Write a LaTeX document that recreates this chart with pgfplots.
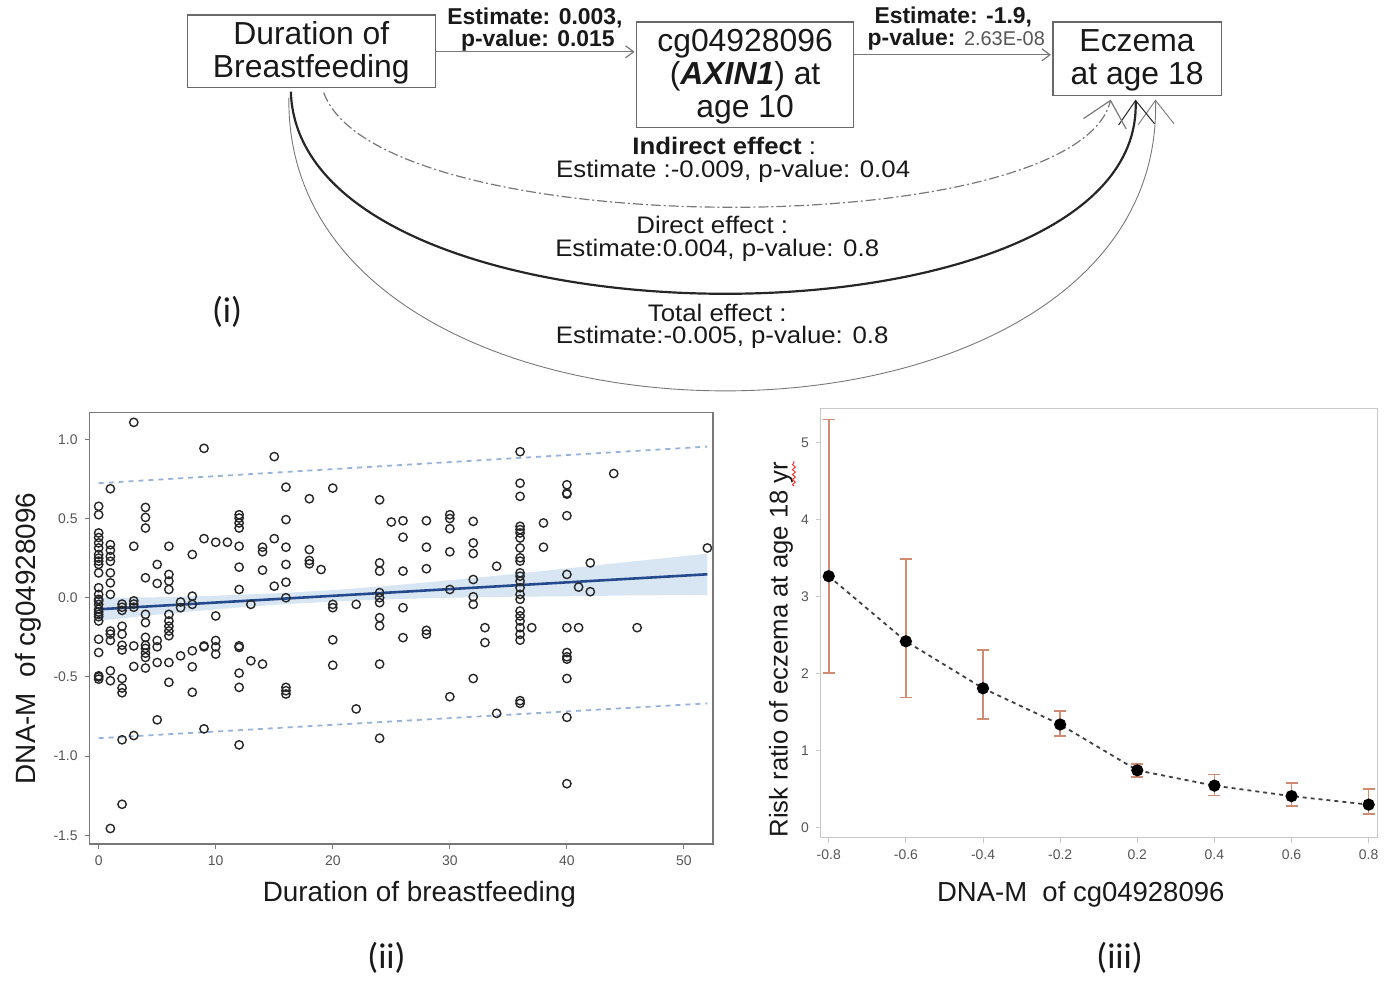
\documentclass[border=0pt]{standalone}
\usepackage{fontspec}
\setmainfont{Liberation Sans}
\newfontfamily\panelfont{Carlito}
\usepackage{pgfplots}
\pgfplotsset{compat=1.18}
\usetikzlibrary{arrows.meta,decorations.pathmorphing}

\definecolor{txt}{RGB}{25,25,25}
\definecolor{boxline}{RGB}{105,105,105}
\definecolor{arcgray}{RGB}{120,120,120}
\definecolor{axisgray}{RGB}{120,120,120}
\definecolor{lightaxis}{RGB}{200,200,200}
\definecolor{ticktext}{RGB}{85,85,85}
\definecolor{fitblue}{RGB}{38,72,140}
\definecolor{bandblue}{RGB}{216,229,243}
\definecolor{predblue}{RGB}{150,178,218}
\definecolor{errsalmon}{RGB}{208,140,112}

\newcommand\boxfont{\fontsize{16}{16.5}\selectfont}
\newcommand\estfont{\fontsize{11.5}{12}\selectfont\bfseries}
\newcommand\efffont{\fontsize{12}{13}\selectfont}
\newcommand\labfont{\fontsize{14}{15}\selectfont}
\newcommand\rlabfont{\fontsize{12.9}{14}\selectfont}
\newcommand\rxlabfont{\fontsize{13.8}{15}\selectfont}
\newcommand\tickfont{\fontsize{7}{8}\selectfont}

\begin{document}
\begin{tikzpicture}
% ---------- mediation diagram (pixel-like grid, y downwards) ----------
\begin{scope}[x=0.5pt,y=-0.5pt,text=txt]
\path[use as bounding box] (0,0) rectangle (1385,985);
\coordinate (scatterSW) at (90,847);
\coordinate (riskSW) at (824,841);

\draw[boxline,line width=0.7pt] (188,15) rectangle (437,88);
\node[align=center,font=\boxfont] at (312.5,53) {Duration of\\Breastfeeding};
\draw[boxline,line width=0.7pt] (639,22) rectangle (857,128);
\node[align=center,font=\boxfont] at (748,77) {cg04928096\\(\textbf{\textit{AXIN1}}) at\\age 10};
\draw[boxline,line width=0.7pt] (1057,22) rectangle (1226,96);
\node[align=center,font=\boxfont] at (1141.5,61) {Eczema\\at age 18};

\draw[arcgray,line width=0.6pt,-{Straight Barb[length=4pt,width=6pt]}] (437,52) -- (637,52);
\draw[arcgray,line width=0.6pt,-{Straight Barb[length=4pt,width=6pt]}] (857,55) -- (1055,55);
\node[font=\estfont] at (537,18) {Estimate: 0.003,};
\node[font=\estfont] at (540,41) {p-value: 0.015};
\node[font=\estfont] at (957,17) {Estimate: -1.9,};
\node[font=\estfont] at (960,40) {p-value: {\mdseries\fontsize{10}{11}\selectfont\color{ticktext}2.63E-08}};

% total effect
\draw[arcgray,line width=0.45pt,-{Straight Barb[length=12pt,width=18pt]}]
  (290,98) .. controls (285,490) and (1170,490) .. (1160,100);
% direct effect
\draw[black!85,line width=1.1pt,-{Straight Barb[length=12pt,width=18pt,line width=0.5pt]}]
  (292,92) .. controls (300,361) and (1150,361) .. (1140,100);
% indirect effect
\draw[arcgray,line width=0.6pt,dash pattern=on 5pt off 1.5pt on 1pt off 1.5pt,-{Straight Barb[length=12pt,width=22pt,sep=0pt]}]
  (325,93) .. controls (380,245) and (1080,245) .. (1115,100);

\begin{scope}[every node/.style={font=\efffont,inner sep=0pt,xscale=1.08}]
\node at (727,147) {\textbf{Indirect effect} :};
\node at (736,172) {Estimate :-0.009, p-value: 0.04};
\node at (715,226) {Direct effect :};
\node at (720,251) {Estimate:0.004, p-value: 0.8};
\node at (720,314) {Total effect :};
\node at (725,339) {Estimate:-0.005, p-value: 0.8};
\end{scope}

\node[font=\panelfont\fontsize{18}{18}\selectfont] at (228,313) {(i)};
\node[font=\panelfont\fontsize{18}{18}\selectfont] at (388,962) {(ii)};
\node[font=\panelfont\fontsize{18}{18}\selectfont] at (1124,962) {(iii)};

\node[font=\labfont,rotate=90] at (28,641) {DNA-M\ \ of cg04928096};
\node[font=\labfont] at (421,898) {Duration of breastfeeding};
\node[font=\rlabfont,rotate=90] at (784,652) {Risk ratio of eczema at age 18 yr};
\node[font=\rxlabfont] at (1085,898) {DNA-M\ \ of cg04928096};
\draw[red!80,line width=0.5pt,decorate,decoration={snake,amplitude=0.7pt,segment length=2.5pt}] (797,488) -- (797,463);
\end{scope}

% ---------- (ii) methylation vs breastfeeding duration ----------
\begin{axis}[
  at={(scatterSW)}, anchor=south west, scale only axis,
  width=313pt, height=216.5pt,
  xmin=-0.77, xmax=52.5, ymin=-1.553, ymax=1.17,
  xtick={0,10,20,30,40,50}, ytick={-1.5,-1,-0.5,0,0.5,1},
  tick pos=left, tick align=outside, major tick length=2.5pt,
  axis line style={draw=axisgray,line width=0.8pt},
  tick style={axisgray,line width=0.5pt},
  ticklabel style={font=\tickfont,text=ticktext},
  /pgf/number format/assume math mode=true,
  yticklabel style={/pgf/number format/fixed,/pgf/number format/fixed zerofill,/pgf/number format/precision=1},
  xticklabel style={/pgf/number format/fixed},
]
% 95% confidence band of the fitted line
\addplot[fill=bandblue,draw=none] coordinates {
 (0,-0.001) (5,0.003) (10,0.013) (15,0.027) (20,0.048) (25,0.077) (30,0.110) (35,0.146) (40,0.185) (45,0.224) (52,0.278)
 (52,0.018) (45,0.014) (40,0.009) (35,0.006) (30,0.000) (25,-0.009) (20,-0.024) (15,-0.045) (10,-0.073) (5,-0.107) (0,-0.145)
} --cycle;
% prediction limits
\addplot[predblue,line width=0.9pt,dash pattern=on 2.5pt off 2.5pt] coordinates {(0,0.723) (52,0.954)};
\addplot[predblue,line width=0.9pt,dash pattern=on 2.5pt off 2.5pt] coordinates {(0,-0.887) (52,-0.667)};
% observations
\addplot[only marks,mark=o,mark size=2.1pt,black!85,mark options={line width=0.7pt}] coordinates {
 (0,0.577) (0,0.524) (0,0.409) (0,0.380) (0,0.346) (0,0.314) (0,0.273) (0,0.250) (0,0.231) (0,0.210) (0,0.157) (0,0.063) (0,0.021)
 (0,-0.010) (0,-0.020) (0,-0.042) (0,-0.073) (0,-0.090) (0,-0.105) (0,-0.120) (0,-0.147) (0,-0.262) (0,-0.346) (0,-0.493) (0,-0.500) (0,-0.514)
 (1,0.688) (1,0.335) (1,0.300) (1,0.260) (1,0.230) (1,0.157) (1,0.094) (1,0.021) (1,-0.210) (1,-0.230) (1,-0.270) (1,-0.461) (1,-0.524) (1,-1.457)
 (2,-0.040) (2,-0.060) (2,-0.080) (2,-0.180) (2,-0.230) (2,-0.300) (2,-0.330) (2,-0.510) (2,-0.570) (2,-0.600) (2,-0.897) (2,-1.304)
 (3,1.107) (3,0.325) (3,-0.020) (3,-0.040) (3,-0.060) (3,-0.304) (3,-0.434) (3,-0.870)
 (4,0.570) (4,0.507) (4,0.440) (4,0.126) (4,-0.105) (4,-0.157) (4,-0.250) (4,-0.300) (4,-0.320) (4,-0.350) (4,-0.377) (4,-0.444)
 (5,0.210) (5,0.090) (5,-0.270) (5,-0.310) (5,-0.409) (5,-0.771)
 (6,0.325) (6,0.147) (6,0.105) (6,0.052) (6,-0.105) (6,-0.147) (6,-0.180) (6,-0.210) (6,-0.240) (6,-0.409) (6,-0.534)
 (7,-0.027) (7,-0.063) (7,-0.367)
 (8,0.273) (8,0.010) (8,-0.042) (8,-0.335) (8,-0.436) (8,-0.597)
 (9,0.943) (9,0.373) (9,-0.304) (9,-0.310) (9,-0.828)
 (10,0.350) (10,-0.115) (10,-0.270) (10,-0.310) (10,-0.356)
 (11,0.350)
 (12,0.524) (12,0.503) (12,0.472) (12,0.440) (12,0.325) (12,0.193) (12,0.052) (12,-0.304) (12,-0.314) (12,-0.476) (12,-0.566) (12,-0.929)
 (13,-0.042) (13,-0.398)
 (14,0.319) (14,0.290) (14,0.174) (14,-0.419)
 (15,0.891) (15,0.373) (15,0.073)
 (16,0.698) (16,0.493) (16,0.319) (16,0.210) (16,0.098) (16,0.000) (16,-0.566) (16,-0.587) (16,-0.608)
 (18,0.625) (18,0.304) (18,0.235) (18,0.214)
 (19,0.178)
 (20,0.692) (20,-0.042) (20,-0.063) (20,-0.266) (20,-0.426)
 (22,-0.042) (22,-0.702)
 (24,0.618) (24,0.220) (24,0.168) (24,0.032) (24,0.000) (24,-0.031) (24,-0.126) (24,-0.178) (24,-0.419) (24,-0.887)
 (25,0.478)
 (26,0.486) (26,0.382) (26,0.168) (26,-0.063) (26,-0.252)
 (28,0.486) (28,0.319) (28,0.183) (28,-0.206) (28,-0.230)
 (30,0.524) (30,0.500) (30,0.436) (30,0.290) (30,0.052) (30,-0.625)
 (32,0.482) (32,0.346) (32,0.279) (32,0.115) (32,0.006) (32,-0.042) (32,-0.510)
 (33,-0.189) (33,-0.283)
 (34,0.199) (34,-0.730)
 (36,0.922) (36,0.723) (36,0.640) (36,0.451) (36,0.430) (36,0.409) (36,0.377) (36,0.314) (36,0.252) (36,0.231) (36,0.157) (36,0.136)
 (36,0.105) (36,0.063) (36,0.021) (36,-0.010) (36,-0.084) (36,-0.115) (36,-0.147) (36,-0.189) (36,-0.231) (36,-0.268) (36,-0.650) (36,-0.667)
 (37,-0.189)
 (38,0.472) (38,0.319)
 (40,0.713) (40,0.660) (40,0.654) (40,0.518) (40,0.147) (40,-0.189) (40,-0.346) (40,-0.373) (40,-0.388) (40,-0.510) (40,-0.755) (40,-1.174)
 (41,0.067) (41,-0.189)
 (42,0.220) (42,0.038)
 (44,0.784)
 (46,-0.189)
 (52,0.314)
};
% fitted regression line
\addplot[fitblue,line width=1.3pt] coordinates {(0,-0.073) (52,0.148)};
\end{axis}

% ---------- (iii) risk ratio by methylation level ----------
\begin{axis}[
  at={(riskSW)}, anchor=south west, scale only axis,
  width=279.5pt, height=215.5pt,
  xmin=-0.103, xmax=7.116, ymin=-0.13, ymax=5.443,
  xtick={0,...,7}, xticklabels={-0.8,-0.6,-0.4,-0.2,0.2,0.4,0.6,0.8},
  ytick={0,1,2,3,4,5},
  tick pos=left, tick align=outside, major tick length=2.5pt,
  axis line style={draw=lightaxis,line width=0.6pt},
  tick style={lightaxis,line width=0.5pt},
  ticklabel style={font=\tickfont,text=ticktext},
  /pgf/number format/assume math mode=true,
]
% 95% confidence intervals
\addplot[errsalmon,only marks,mark=none,
  error bars/.cd, y dir=both, y explicit, error mark=-,
  error bar style={draw=errsalmon,line width=0.8pt},
  error mark options={draw=errsalmon,line width=0.8pt,mark size=3pt,rotate=90}]
  table[x=idx,y=rr,y error plus=ep,y error minus=em] {
idx rr    ep    em
0   3.265 2.035 1.255
1   2.42  1.065 0.73
2   1.81  0.50  0.40
3   1.34  0.175 0.15
4   0.745 0.085 0.085
5   0.546 0.144 0.126
6   0.41  0.17  0.13
7   0.30  0.20  0.12
};
% point estimates
\addplot[black!75,line width=0.9pt,dash pattern=on 2pt off 2pt,
  mark=*,mark size=2.6pt,mark options={solid,fill=black,draw=black}]
  coordinates {(0,3.265) (1,2.42) (2,1.81) (3,1.34) (4,0.745) (5,0.546) (6,0.41) (7,0.30)};
\end{axis}
\end{tikzpicture}
\end{document}
